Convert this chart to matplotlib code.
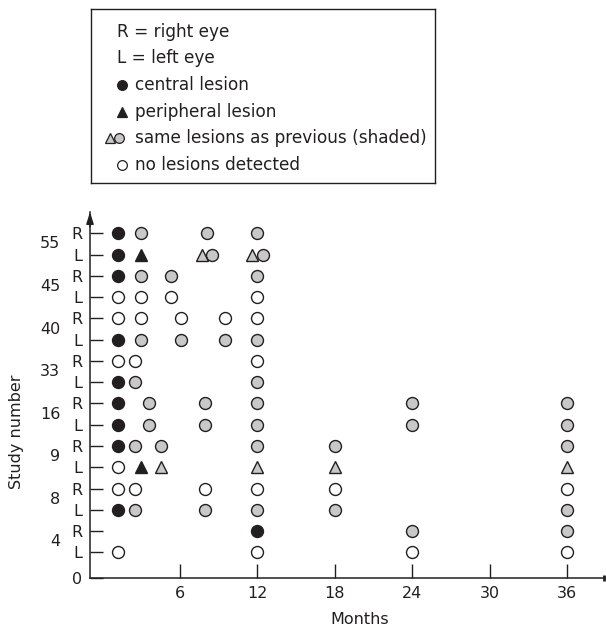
import matplotlib
matplotlib.use("Agg")
import matplotlib.pyplot as plt

# rows from bottom to top: study number + eye
row_labels = ["4L", "4R", "8L", "8R", "9L", "9R", "16L", "16R",
              "33L", "33R", "40L", "40R", "45L", "45R", "55L", "55R"]
study_numbers = [4, 8, 9, 16, 33, 40, 45, 55]
month_ticks = [6, 12, 18, 24, 30, 36]

# central lesion (black circle)
central_rows = ["55R", "55L", "45R", "40L", "33L", "16R", "16L", "9R", "8L", "4R"]
central_months = [1.2, 1.2, 1.2, 1.2, 1.2, 1.2, 1.2, 1.2, 1.2, 12.0]

# peripheral lesion (black triangle)
peripheral_rows = ["55L", "9L"]
peripheral_months = [3.0, 3.0]

# same lesions as previous, circles (shaded)
shaded_rows = ["55R", "55R", "55R", "55L", "55L",
               "45R", "45R", "45R",
               "40L", "40L", "40L", "40L",
               "33L", "33L",
               "16R", "16R", "16R", "16R", "16R",
               "16L", "16L", "16L", "16L", "16L",
               "9R", "9R", "9R", "9R", "9R",
               "8L", "8L", "8L", "8L", "8L",
               "4R", "4R"]
shaded_months = [3.0, 8.1, 12.0, 8.5, 12.45,
                 3.0, 5.3, 12.0,
                 3.0, 6.1, 9.5, 12.0,
                 2.5, 12.0,
                 3.6, 7.9, 12.0, 24.0, 36.0,
                 3.6, 7.9, 12.0, 24.0, 36.0,
                 2.5, 4.5, 12.0, 18.0, 36.0,
                 2.5, 7.9, 12.0, 18.0, 36.0,
                 24.0, 36.0]

# same lesions as previous, triangles (shaded)
shaded_tri_rows = ["55L", "55L", "9L", "9L", "9L", "9L"]
shaded_tri_months = [7.7, 11.6, 4.5, 12.0, 18.0, 36.0]

# no lesions detected (open circle)
open_rows = ["45L", "45L", "45L", "45L",
             "40R", "40R", "40R", "40R", "40R",
             "33R", "33R", "33R",
             "9L",
             "8R", "8R", "8R", "8R", "8R", "8R",
             "4L", "4L", "4L", "4L"]
open_months = [1.2, 3.0, 5.3, 12.0,
               1.2, 3.0, 6.1, 9.5, 12.0,
               1.2, 2.5, 12.0,
               1.2,
               1.2, 2.5, 7.9, 12.0, 18.0, 36.0,
               1.2, 12.0, 24.0, 36.0]

INK = "#231f20"
GREY = "#c8c8c8"
FS = 11.5
KEY_FS = 12.2


def ypos(rows):
    return [row_labels.index(r) + 1 for r in rows]


fig = plt.figure(figsize=(6.06, 6.27), dpi=100)
ax = fig.add_axes([90 / 606, 1 - 577.7 / 627, 514 / 606, 365.7 / 627])

circ = dict(linestyle="none", markersize=8.6, markeredgewidth=1.0,
            markeredgecolor=INK, clip_on=False, zorder=3)
tri = dict(linestyle="none", markersize=9.0, markeredgewidth=1.0,
           markeredgecolor=INK, clip_on=False, zorder=3)

ax.plot(open_months, ypos(open_rows), marker="o", markerfacecolor="white", **circ)
ax.plot(shaded_months, ypos(shaded_rows), marker="o", markerfacecolor=GREY, **circ)
ax.plot(central_months, ypos(central_rows), marker="o", markerfacecolor=INK, **circ)
ax.plot(shaded_tri_months, ypos(shaded_tri_rows), marker="^", markerfacecolor=GREY, **tri)
ax.plot(peripheral_months, ypos(peripheral_rows), marker="^", markerfacecolor=INK, **tri)

ax.set_xlim(-0.98, 38.87)
ax.set_ylim(-0.19, 17.0)

for s in ["top", "right"]:
    ax.spines[s].set_visible(False)
for s in ["left", "bottom"]:
    ax.spines[s].set_color(INK)
    ax.spines[s].set_linewidth(1.1)

# y ticks: R / L for each eye, plus the origin
ax.set_yticks([-0.19] + list(range(1, len(row_labels) + 1)))
ax.set_yticklabels(["0"] + [r[-1] for r in row_labels])
ax.set_xticks(month_ticks)
ax.set_xticklabels([str(m) for m in month_ticks])
ax.tick_params(axis="y", direction="in", length=9.5, width=1.0, color=INK,
               pad=5.5, labelsize=FS, labelcolor=INK)
ax.tick_params(axis="x", direction="in", length=10, width=1.0, color=INK,
               pad=6, labelsize=FS, labelcolor=INK)

# study numbers between each R/L pair
for i, n in enumerate(study_numbers):
    ax.annotate(str(n), xy=(0, 2 * i + 1.5), xycoords=("axes fraction", "data"),
                xytext=(-21.5, 0), textcoords="offset points",
                ha="right", va="center", fontsize=FS, color=INK)

# arrow heads at ends of axes
ax.annotate("", xy=(0, 1.0), xytext=(0, 0.96), xycoords="axes fraction",
            arrowprops=dict(arrowstyle="-|>,head_length=0.7,head_width=0.22",
                            color=INK, lw=1.1, shrinkA=0, shrinkB=0))
ax.plot([1.0], [0], marker="|", markersize=5, markeredgewidth=2, color=INK,
        transform=ax.transAxes, clip_on=False)

ax.set_xlabel("Months", fontsize=FS, color=INK)
ax.xaxis.set_label_coords(0.525, -0.095)
ax.set_ylabel("Study number", fontsize=FS, color=INK)
ax.yaxis.set_label_coords(-0.128, 0.40)

# key box
lax = fig.add_axes([91 / 606, 1 - 183 / 627, 344 / 606, 174 / 627])
lax.set_xlim(91, 435)
lax.set_ylim(183, 9)
lax.set_xticks([])
lax.set_yticks([])
for s in lax.spines.values():
    s.set_linewidth(1.0)
    s.set_color(INK)

key_y = [32, 58, 85, 112, 138, 165]
key_text = ["R = right eye", "L = left eye", "central lesion", "peripheral lesion",
            "same lesions as previous (shaded)", "no lesions detected"]
for i, t in enumerate(key_text):
    x = 117 if i < 2 else 135
    lax.text(x, key_y[i], t, fontsize=KEY_FS, color=INK, va="center", ha="left")

km = dict(linestyle="none", markeredgewidth=0.9, markeredgecolor=INK)
lax.plot([122], [key_y[2]], marker="o", markersize=7, markerfacecolor=INK, **km)
lax.plot([122], [key_y[3]], marker="^", markersize=7.5, markerfacecolor=INK, **km)
lax.plot([110], [key_y[4]], marker="^", markersize=7.5, markerfacecolor=GREY, **km)
lax.plot([119], [key_y[4]], marker="o", markersize=7, markerfacecolor=GREY, **km)
lax.plot([122], [key_y[5]], marker="o", markersize=7, markerfacecolor="white", **km)

fig.savefig("out.png", dpi=100)
